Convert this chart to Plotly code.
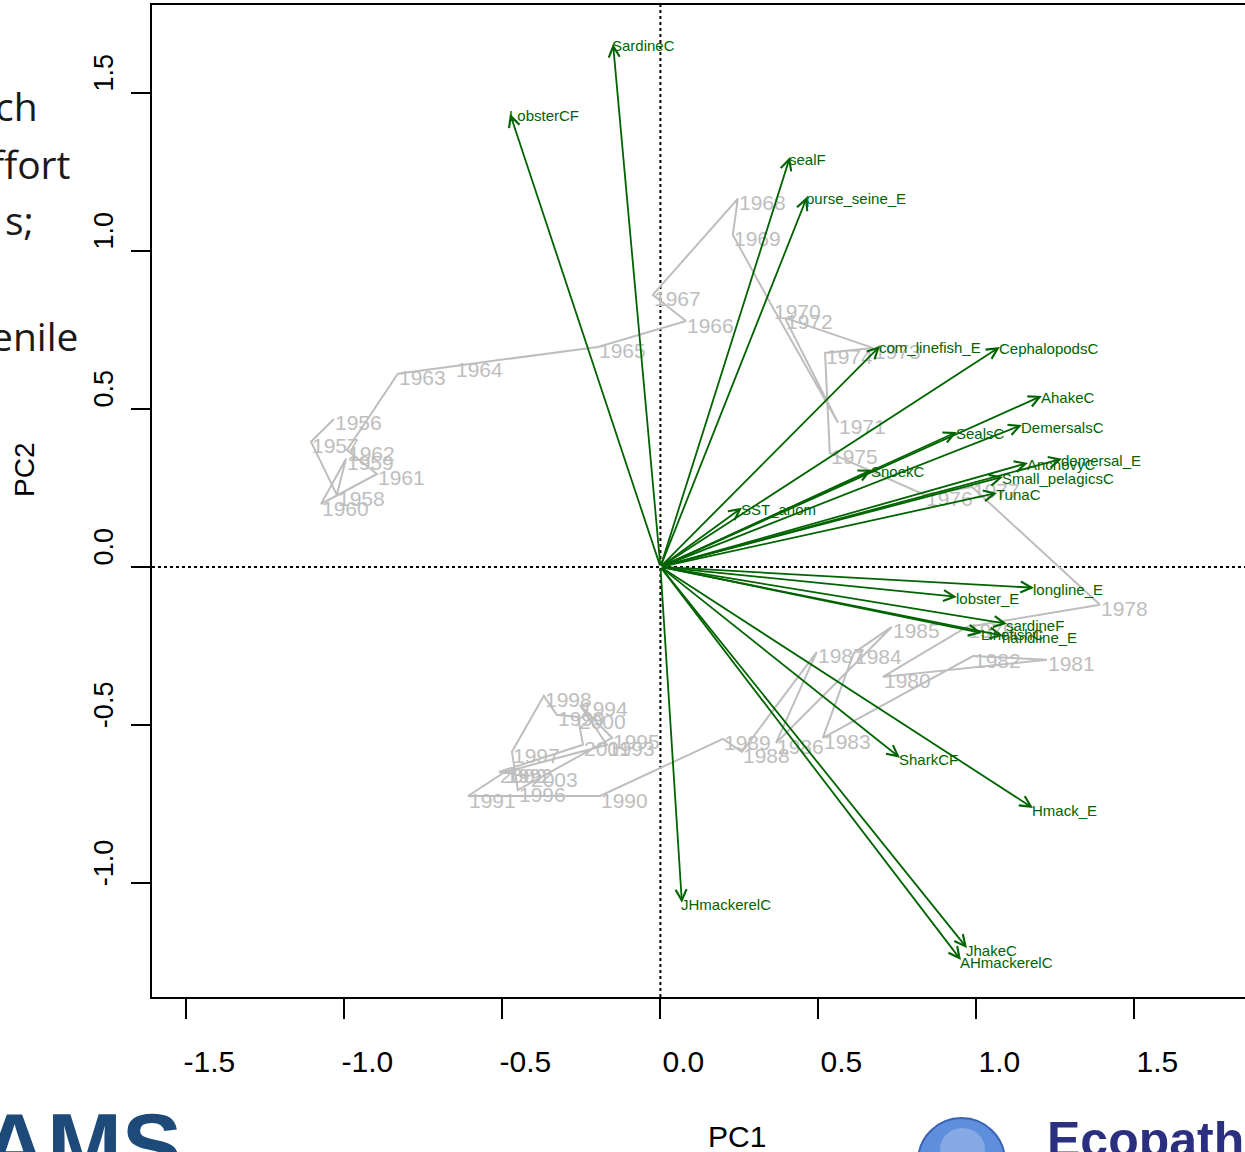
import plotly.graph_objects as go

# ---- PCA biplot data -------------------------------------------------------
# Year scores on the first two principal components (trajectory through time)
years = list(range(1956, 2004))
pc1_scores = [
    -1.033, -1.106, -1.024, -0.995, -1.074, -0.897, -0.992, -0.831, -0.650, -0.198,
    0.081, -0.024, 0.245, 0.229, 0.356, 0.562, 0.394, 0.672, 0.521, 0.536,
    0.837, 0.986, 1.391, 0.970, 0.704, 1.223, 0.989, 0.514, 0.612, 0.732,
    0.366, 0.495, 0.258, 0.198, -0.191, -0.609, -0.492, -0.169, -0.255, -0.153,
    -0.451, -0.470, -0.369, -0.328, -0.261, -0.245, -0.511, -0.413,
]
pc2_scores = [
    0.468, 0.396, 0.228, 0.342, 0.199, 0.294, 0.370, 0.611, 0.636, 0.696,
    0.778, 0.861, 1.165, 1.051, 0.820, 0.456, 0.788, 0.693, 0.677, 0.361,
    0.228, 0.253, -0.120, -0.190, -0.348, -0.294, -0.282, -0.541, -0.272, -0.190,
    -0.557, -0.269, -0.585, -0.544, -0.725, -0.725, -0.649, -0.563, -0.437, -0.541,
    -0.706, -0.585, -0.408, -0.468, -0.475, -0.563, -0.649, -0.661,
]

# Variable loadings (arrows from the origin)
variables = [
    "SardineC", "LobsterCF", "sealF", "purse_seine_E", "com_linefish_E",
    "CephalopodsC", "AhakeC", "SealsC", "DemersalsC", "SnoekC",
    "AnchovyC", "demersal_E", "Small_pelagicsC", "TunaC", "SST_anom",
    "longline_E", "lobster_E", "sardineF", "LinefishC", "handline_E",
    "SharkCF", "Hmack_E", "JhakeC", "AHmackerelC", "JHmackerelC",
]
pc1_load = [
    -0.150, -0.476, 0.410, 0.464, 0.695,
    1.074, 1.207, 0.938, 1.144, 0.669,
    1.163, 1.271, 1.084, 1.065, 0.258,
    1.182, 0.938, 1.097, 1.017, 1.084,
    0.758, 1.179, 0.970, 0.951, 0.068,
]
pc2_load = [
    1.655, 1.434, 1.297, 1.171, 0.699,
    0.696, 0.541, 0.427, 0.449, 0.307,
    0.329, 0.342, 0.285, 0.234, 0.187,
    -0.066, -0.095, -0.180, -0.209, -0.218,
    -0.604, -0.763, -1.206, -1.244, -1.063,
]

x_ticks = [-1.5, -1.0, -0.5, 0.0, 0.5, 1.0, 1.5]
x_ticktext = ["-1.5", "-1.0", "-0.5", "0.0", "0.5", "1.0", "1.5"]
y_ticks = [-1.0, -0.5, 0.0, 0.5, 1.0, 1.5]
y_ticktext = ["-1.0", "-0.5", "0.0", "0.5", "1.0", "1.5"]

# ---- styling ---------------------------------------------------------------
W, H = 1245, 1152
M_L, M_R, M_T, M_B = 152, 0, 5, 155
GREEN = "#006400"
GREY = "#BEBEBE"
FONT = "Liberation Sans, Arial, sans-serif"


def px_x(p):
    """Pixel column -> paper x coordinate."""
    return (p - M_L) / (W - M_L - M_R)


def px_y(p):
    """Pixel row -> paper y coordinate."""
    return (H - M_B - p) / (H - M_T - M_B)


fig = go.Figure()

# Year trajectory
fig.add_trace(go.Scatter(
    x=pc1_scores, y=pc2_scores, mode="lines",
    line=dict(color=GREY, width=2),
    hoverinfo="skip", showlegend=False,
))

# Year labels, placed to the right of each point
for yr, sx, sy in zip(years, pc1_scores, pc2_scores):
    fig.add_annotation(
        x=sx, y=sy, xref="x", yref="y", text=str(yr), showarrow=False,
        xanchor="left", yanchor="middle", xshift=-1, yshift=-4,
        font=dict(family=FONT, size=21, color=GREY),
    )

# Loading arrows from the origin
for vx, vy in zip(pc1_load, pc2_load):
    fig.add_annotation(
        x=vx, y=vy, ax=0, ay=0, xref="x", yref="y", axref="x", ayref="y",
        text="", showarrow=True, arrowhead=5, arrowsize=1.2,
        arrowwidth=1.8, arrowcolor=GREEN, standoff=0,
    )

# Variable labels at arrow tips
for name, vx, vy in zip(variables, pc1_load, pc2_load):
    fig.add_annotation(
        x=vx, y=vy, xref="x", yref="y", text=name, showarrow=False,
        xanchor="left", yanchor="middle", xshift=-3, yshift=-2,
        font=dict(family=FONT, size=15, color=GREEN),
    )

# Dotted reference lines through the origin
fig.add_shape(type="line", xref="x", yref="paper", x0=0, x1=0, y0=0, y1=1,
              line=dict(color="black", width=2, dash="dot"), layer="below")
fig.add_shape(type="line", xref="paper", yref="y", x0=0, x1=1, y0=0, y1=0,
              line=dict(color="black", width=2, dash="dot"), layer="below")

# Axis titles
fig.add_annotation(text="PC1", xref="paper", yref="paper",
                   x=px_x(737), y=px_y(1136), xanchor="center", yanchor="middle",
                   showarrow=False,
                   font=dict(family=FONT, size=30, color="black"))
fig.add_annotation(text="PC2", xref="paper", yref="paper",
                   x=px_x(24), y=px_y(470), xanchor="center", yanchor="middle",
                   showarrow=False, textangle=-90,
                   font=dict(family=FONT, size=28, color="black"))

# Slide text fragments along the left edge
for txt, xr, yc in [("ch", 40, 105), ("effort", 72, 163), ("s;", 36, 220), ("enile", 80, 335)]:
    fig.add_annotation(text=txt, xref="paper", yref="paper",
                       x=px_x(xr), y=px_y(yc), xanchor="right", yanchor="middle",
                       showarrow=False,
                       font=dict(family="Open Sans, Noto Sans, sans-serif", size=39, color="#1a1a1a"))

# Logos along the bottom edge
fig.add_annotation(text="<b>AMS</b>", xref="paper", yref="paper",
                   x=px_x(-20), y=px_y(1146), xanchor="left", yanchor="middle",
                   showarrow=False,
                   font=dict(family=FONT, size=90, color="#1d4a78"))
fig.add_shape(type="circle", xref="paper", yref="paper",
              x0=px_x(918), x1=px_x(1005), y0=px_y(1205), y1=px_y(1118),
              fillcolor="#5f8fdc", line=dict(color="#3b63b5", width=2))
fig.add_shape(type="circle", xref="paper", yref="paper",
              x0=px_x(940), x1=px_x(985), y0=px_y(1170), y1=px_y(1128),
              fillcolor="#9dbbea", line=dict(width=0), opacity=0.6)
fig.add_annotation(text="<b>Ecopath</b>", xref="paper", yref="paper",
                   x=px_x(1045), y=px_y(1140), xanchor="left", yanchor="middle",
                   showarrow=False,
                   font=dict(family=FONT, size=50, color="#2b2f80"))

fig.update_layout(
    width=W, height=H,
    margin=dict(l=M_L, r=M_R, t=M_T, b=M_B, pad=0),
    paper_bgcolor="white", plot_bgcolor="white",
    showlegend=False,
    xaxis=dict(
        range=[-1.609, 1.850], tickvals=x_ticks, ticktext=x_ticktext,
        ticks="outside", ticklen=20, tickwidth=2, tickcolor="black",
        showgrid=False, zeroline=False,
        showline=True, linewidth=2, linecolor="black", mirror=True,
        tickfont=dict(family=FONT, size=30, color="black"),
        ticklabelshift=23, ticklabelstandoff=17,
    ),
    yaxis=dict(
        range=[-1.361, 1.778], tickvals=y_ticks, ticktext=y_ticktext,
        ticks="outside", ticklen=19, tickwidth=2, tickcolor="black",
        showgrid=False, zeroline=False,
        showline=True, linewidth=2, linecolor="black", mirror=False,
        tickangle=-90,
        tickfont=dict(family=FONT, size=27, color="black"),
        ticklabelshift=-16, ticklabelstandoff=7,
    ),
)

fig.write_html("out.html")
